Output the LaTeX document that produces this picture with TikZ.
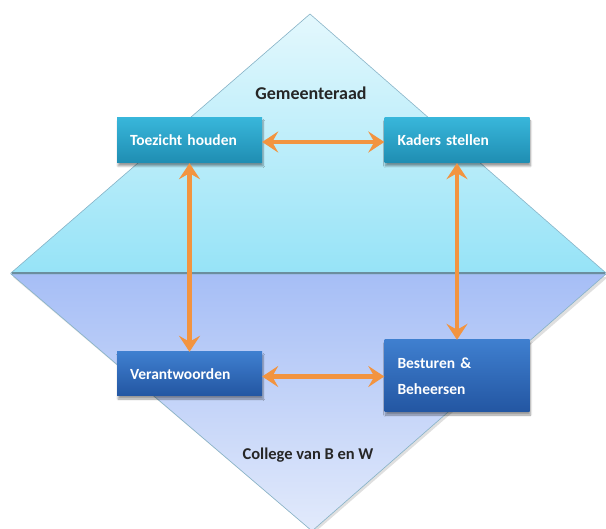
\documentclass[tikz,border=0pt]{standalone}
\usepackage{fontspec}
\setmainfont{Carlito}
\usetikzlibrary{arrows.meta,shadows.blur}
\definecolor{arrowor}{HTML}{F29440}
\definecolor{topA}{HTML}{E4F8FD}
\definecolor{topB}{HTML}{96E3F7}
\definecolor{botA}{HTML}{A6BEF6}
\definecolor{botB}{HTML}{E2EAFB}
\definecolor{cyanA}{HTML}{38B6DA}
\definecolor{cyanB}{HTML}{1F8DB2}
\definecolor{blueA}{HTML}{3F7FCF}
\definecolor{blueB}{HTML}{2356A2}
\definecolor{edgec}{HTML}{86B2C6}
\tikzset{
  boxbase/.style={minimum width=145pt, inner sep=0pt, text=white, font=\fontsize{15.5}{26}\selectfont\bfseries, align=left, text width=119pt, blur shadow={shadow xshift=1pt, shadow yshift=-3pt, shadow blur steps=6, shadow opacity=40}},
  cyanbox/.style={boxbase, top color=cyanA, bottom color=cyanB, minimum height=45pt},
  bluebox/.style={boxbase, top color=blueA, bottom color=blueB},
  link/.style={draw=arrowor, line width=4.5pt, {Stealth[length=16pt,width=21pt,inset=6pt]}-{Stealth[length=16pt,width=21pt,inset=6pt]}},
  title/.style={text=black!85}
}
\begin{document}
\begin{tikzpicture}[x=1pt,y=-1pt]
\useasboundingbox (0,0) rectangle (606,529);
% lower half
\fill[black!25, opacity=0.5] (13,277) -- (314,533) -- (608,277) -- cycle;
\shade[top color=botA, bottom color=botB, draw=edgec, line width=0.6pt] (11,274) -- (312,531) -- (606,274) -- cycle;
% upper half
\shade[top color=topA, bottom color=topB, draw=edgec, line width=0.6pt] (310,14) -- (11,273) -- (606,273) -- cycle;
\draw[draw=edgec!80!black, line width=1.6pt] (12,273) -- (605,273);
% titles
\node[title, font=\fontsize{18}{20}\selectfont\bfseries] (g) at (311,93) {Gemeenteraad};
\node[title, font=\fontsize{16.5}{20}\selectfont\bfseries] (c) at (308,455) {College van B en W};
% boxes
\node[cyanbox] (t) at (189.5,140.5) {Toezicht houden};
\node[cyanbox] (k) at (457,140.5) {Kaders stellen};
\node[bluebox, minimum height=44pt] (v) at (189.5,374) {Verantwoorden};
\node[bluebox, minimum height=72pt] (b) at (457,376) {Besturen \&\\Beheersen};
% connectors
\draw[link] ([yshift=-1.5pt]t.east) -- ([yshift=-1.5pt]k.west);
\draw[link] (t.south) -- (v.north);
\draw[link] (k.south) -- (b.north);
\draw[link] ([yshift=-2.5pt]v.east) -- ([yshift=-2.5pt]v.east -| b.west);
\end{tikzpicture}
\end{document}
